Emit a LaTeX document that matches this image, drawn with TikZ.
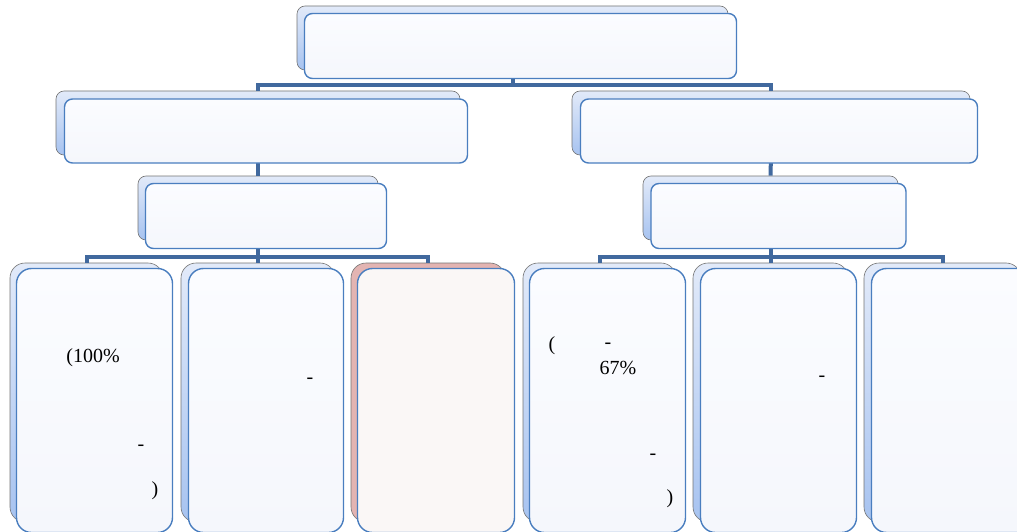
\documentclass[tikz,border=0pt]{standalone}
\usepackage{fontspec}
\setmainfont{Liberation Serif}
\begin{document}
\begin{tikzpicture}[x=1pt,y=-1pt,
  backbox/.style={draw=black!55, line width=0.6pt, rounded corners=#1, top color=backtop, bottom color=backbot, inner sep=0pt},
  backbox/.default=8pt,
  redback/.style={draw=black!55, line width=0.6pt, rounded corners=15pt, fill=redbk, inner sep=0pt},
  frontbox/.style={draw=frontline, line width=1.4pt, rounded corners=#1, top color=fronttop, bottom color=frontbot, inner sep=0pt},
  frontbox/.default=8pt,
  redfront/.style={draw=frontline, line width=1.4pt, rounded corners=15pt, fill=redfr, inner sep=0pt},
  conn/.style={draw=connc, line width=4pt},
  lbl/.style={font=\fontsize{20}{22}\selectfont, inner sep=0pt, text=black}
]
\definecolor{backtop}{HTML}{E2EAF9}
\definecolor{backbot}{HTML}{A7C3F0}
\definecolor{fronttop}{HTML}{FBFCFF}
\definecolor{frontbot}{HTML}{F5F7FC}
\definecolor{frontline}{HTML}{4A7EBF}
\definecolor{connc}{HTML}{41699E}
\definecolor{redbk}{HTML}{E3B4B2}
\definecolor{redfr}{HTML}{FAF7F6}
\useasboundingbox (0,0) rectangle (1017,532);
\clip (0,0) rectangle (1017,532);

% back boxes (actual tree nodes)
\node[backbox, minimum width=431, minimum height=64] (top) at (512.5,38) {};
\node[backbox, minimum width=404, minimum height=64] (l2a) at (258,123) {};
\node[backbox, minimum width=398, minimum height=64] (l2b) at (771,123) {};
\node[backbox, minimum width=240, minimum height=64] (l3a) at (258,208) {};
\node[backbox, minimum width=255, minimum height=64] (l3b) at (770.5,208) {};
\node[backbox=15pt, minimum width=153, minimum height=259] (c1) at (86.5,392.5) {};
\node[backbox=15pt, minimum width=154, minimum height=259] (c2) at (258,392.5) {};
\node[redback, minimum width=154, minimum height=259] (c3) at (428,392.5) {};
\node[backbox=15pt, minimum width=153, minimum height=259] (c4) at (599.5,392.5) {};
\node[backbox=15pt, minimum width=155, minimum height=259] (c5) at (770.5,392.5) {};
\node[backbox=15pt, minimum width=157, minimum height=259] (c6) at (942.5,392.5) {};

% connectors (drawn over back boxes, under front boxes)
\coordinate (b1) at (512.5,85);
\coordinate (b2) at (258,257);
\coordinate (b3) at (770.5,257);
\draw[conn] (top.south) -- (b1);
\draw[conn] (b1) -| (l2a.north);
\draw[conn] (b1) -| (l2b.north);
\draw[conn] (l2a.south) -- (l3a.north);
\draw[conn] (l2b.south) -- (l3b.north);
\draw[conn] (l3a.south) -- (b2);
\draw[conn] (b2) -| (c1.north);
\draw[conn] (b2) -| (c2.north);
\draw[conn] (b2) -| (c3.north);
\draw[conn] (l3b.south) -- (b3);
\draw[conn] (b3) -| (c4.north);
\draw[conn] (b3) -| (c5.north);
\draw[conn] (b3) -| (c6.north);

% front boxes
\node[frontbox, minimum width=432, minimum height=65] (ftop) at ([shift={(8,8)}]top.center) {};
\node[frontbox, minimum width=403, minimum height=64] (fl2a) at ([shift={(8,8)}]l2a.center) {};
\node[frontbox, minimum width=397, minimum height=64] (fl2b) at ([shift={(8,8)}]l2b.center) {};
\node[frontbox, minimum width=241, minimum height=65] (fl3a) at ([shift={(8,8)}]l3a.center) {};
\node[frontbox, minimum width=255, minimum height=65] (fl3b) at ([shift={(8,8)}]l3b.center) {};
\node[frontbox=15pt, minimum width=156, minimum height=264] (fc1) at ([shift={(8,8)}]c1.center) {};
\node[frontbox=15pt, minimum width=155, minimum height=264] (fc2) at ([shift={(8,8)}]c2.center) {};
\node[redfront, minimum width=157, minimum height=264] (fc3) at ([shift={(8,8)}]c3.center) {};
\node[frontbox=15pt, minimum width=156, minimum height=264] (fc4) at ([shift={(8,8)}]c4.center) {};
\node[frontbox=15pt, minimum width=156, minimum height=264] (fc5) at ([shift={(8,8)}]c5.center) {};
\node[frontbox=15pt, minimum width=164, minimum height=264] (fc6) at ([shift={(11,8)}]c6.center) {};

% text fragments
\node[lbl] (t1) at (93,358) {(100\%};
\node[lbl] (t2) at (141,448) {-};
\node[lbl] (t3) at (155,491) {)};
\node[lbl] (t4) at (310,381) {-};
\node[lbl] (t5) at (552,346) {(};
\node[lbl] (t6) at (608,346) {-};
\node[lbl] (t7) at (618,368) {67\%};
\node[lbl] (t8) at (653,457) {-};
\node[lbl] (t9) at (670,499) {)};
\node[lbl] (t10) at (822,379) {-};
\end{tikzpicture}
\end{document}
